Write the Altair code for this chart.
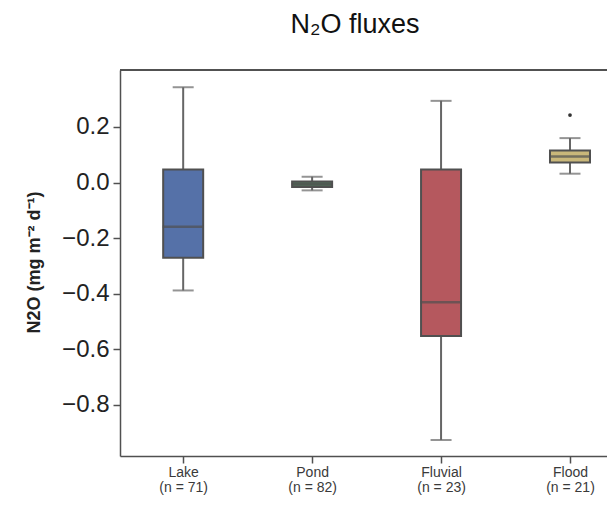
import altair as alt
import pandas as pd

categories = ["Lake", "Pond", "Fluvial", "Flood"]
counts = [71, 82, 23, 21]
whisker_low = [-0.388, -0.028, -0.926, 0.032]
q1 = [-0.270, -0.016, -0.552, 0.072]
median = [-0.159, -0.006, -0.430, 0.094]
q3 = [0.047, 0.004, 0.047, 0.115]
whisker_high = [0.343, 0.021, 0.294, 0.160]
fill_colors = ["#5571a8", "#4f6e58", "#b5585e", "#c9b77a"]

outlier_cat = ["Flood"]
outlier_val = [0.243]

y_ticks = [-0.8, -0.6, -0.4, -0.2, 0.0, 0.2]
title_text = ["N\u2082O fluxes"]

df = pd.DataFrame({
    "cat": categories,
    "pos": list(range(len(categories))),
    "n": counts,
    "lo": whisker_low,
    "q1": q1,
    "med": median,
    "q3": q3,
    "hi": whisker_high,
})
out_df = pd.DataFrame({
    "cat": outlier_cat,
    "pos": [categories.index(c) for c in outlier_cat],
    "val": outlier_val,
})
title_df = pd.DataFrame({"t": title_text})

W, H = 487, 386
edge = "#505050"

labels_js = "[" + ",".join("'%s\\n(n = %d)'" % (c, n) for c, n in zip(categories, counts)) + "]"

xscale = alt.Scale(domain=[-0.49, 3.287], nice=False, zero=False, padding=0)
yscale = alt.Scale(domain=[-0.9835, 0.405], nice=False, zero=False, padding=0)

xaxis = alt.Axis(
    values=list(range(len(categories))),
    labelExpr="split(" + labels_js + "[datum.value], '\\n')",
    title=None, grid=False, tickSize=7, tickColor=edge, tickWidth=1.5,
    domainColor=edge, domainWidth=1.5, labelFontSize=14, labelColor="#3a3a3a",
    labelFont="Liberation Sans", labelPadding=2, labelLineHeight=15,
)
yaxis = alt.Axis(
    values=y_ticks,
    labelExpr="replace(format(datum.value, '.1f'), '-', '\u2212')",
    title="N2O (mg m\u207b\u00b2 d\u207b\u00b9)",
    titleFont="Liberation Sans", titleFontSize=18, titleFontWeight="bold",
    titleColor="#222", titleX=-86, titleY=192, titleAngle=-90,
    titleBaseline="middle", titleAlign="center",
    grid=False, tickSize=7, tickColor=edge, tickWidth=1.5,
    domainColor=edge, domainWidth=1.5, labelFontSize=24,
    labelFont="Liberation Sans", labelColor="#222", labelPadding=4,
)

base = alt.Chart(df)

whiskers = base.mark_rule(color="#666666", strokeWidth=2).encode(
    x=alt.X("pos:Q", scale=xscale, axis=xaxis),
    y=alt.Y("lo:Q", scale=yscale, axis=yaxis),
    y2="hi:Q",
)
caps_hi = base.mark_tick(orient="horizontal", size=21, thickness=2, color="#666666").encode(
    x="pos:Q", y="hi:Q")
caps_lo = base.mark_tick(orient="horizontal", size=21, thickness=2, color="#666666").encode(
    x="pos:Q", y="lo:Q")
boxes = base.mark_bar(size=40, stroke=edge, strokeWidth=2).encode(
    x="pos:Q",
    y="q1:Q",
    y2="q3:Q",
    color=alt.Color("cat:N", scale=alt.Scale(domain=categories, range=fill_colors), legend=None),
)
medians = base.mark_tick(orient="horizontal", size=41, thickness=2.5, color=edge).encode(
    x="pos:Q", y="med:Q")
outliers = alt.Chart(out_df).mark_circle(size=14, color="#333333", opacity=1).encode(
    x="pos:Q", y="val:Q")
top_line = base.mark_rule(color=edge, strokeWidth=1.5).encode(
    x=alt.value(0), x2=alt.value(W), y=alt.value(0))
title_mark = alt.Chart(title_df).mark_text(
    font="Liberation Sans", fontSize=27, color="#111", align="center", baseline="alphabetic"
).encode(text="t:N", x=alt.value(235), y=alt.value(-37))

chart = alt.layer(
    whiskers, caps_hi, caps_lo, boxes, medians, outliers, top_line, title_mark
).properties(
    width=W, height=H,
    padding={"left": 112, "top": 62, "right": 0, "bottom": 41},
    autosize=alt.AutoSizeParams(type="none"),
).configure_view(stroke=None)

chart.save("out.html", embed_options={"renderer": "svg", "actions": False})
